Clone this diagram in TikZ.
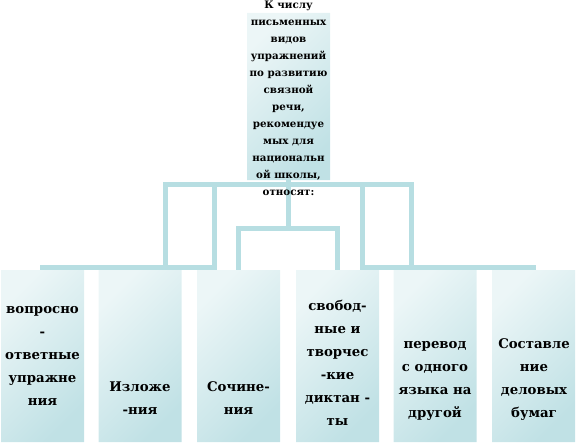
\documentclass[tikz,border=0pt]{standalone}
\usepackage{fontspec}
\setmainfont{DejaVu Serif}
\usetikzlibrary{shapes.misc,backgrounds}

\definecolor{linkteal}{RGB}{183,222,226}
\definecolor{boxlight}{RGB}{236,246,247}
\definecolor{boxdark}{RGB}{192,225,229}

\tikzset{
  card/.style={chamfered rectangle, chamfered rectangle xsep=5pt,
    inner sep=0pt, top color=boxlight, bottom color=boxdark, shading angle=45},
  leaf/.style={card, minimum width=83pt, minimum height=172pt},
  toptext/.style={font=\bfseries\fontsize{10.3}{17}\selectfont, align=center, inner sep=0pt},
  leaftext/.style={font=\bfseries\fontsize{13.3}{23}\selectfont, align=center, inner sep=0pt},
  link/.style={draw=linkteal, line width=5pt}
}

\begin{document}
\begin{tikzpicture}[x=1pt,y=-1pt]
  \useasboundingbox (0,0) rectangle (577,444);

  % top box, its text runs over the edges
  \node[card, minimum width=83pt, minimum height=167pt] (rootbox) at (288.5,96.5) {};
  \node[toptext] (root) at (288.5,98.5) {К числу\\ письменных\\ видов\\ упражнений\\
    по развитию\\ связной\\ речи,\\ рекомендуе\\ мых для\\ национальн\\ ой школы,\\ относят:};

  % six kinds
  \node[leaf] (qa) at (42.5,356) {};
  \node[leaf] (pres) at (140,356) {};
  \node[leaf] (comp) at (238.5,356) {};
  \node[leaf] (dict) at (337.5,356) {};
  \node[leaf] (transl) at (435,356) {};
  \node[leaf] (docs) at (533.5,356) {};

  \node[leaftext] (qa-t) at (42.5,356) {вопросно\\ -\\ ответные\\ упражне\\ ния};
  \node[leaftext] (pres-t) at (140,398.5) {Изложе\\ -ния};
  \node[leaftext] (comp-t) at (238.5,398.5) {Сочине-\\ ния};
  \node[leaftext] (dict-t) at (337.5,362.5) {свобод-\\ ные и\\ творчес\\ -кие\\ диктан -\\ ты};
  \node[leaftext] (transl-t) at (435,381) {перевод\\ с одного\\ языка на\\ другой};
  \node[leaftext] (docs-t) at (534,380) {Составле\\ ние\\ деловых\\ бумаг};

  \begin{scope}[on background layer]
    \draw[link] (rootbox.south) -- ++(0,4) -| ++(-123,83) -| (qa.north);
    \draw[link] (rootbox.south) -- ++(0,4) -| ++(-74,83) -| (pres.north);
    \draw[link] (rootbox.south) -- ++(0,48) -| (comp.north);
    \draw[link] (rootbox.south) -- ++(0,48) -| (dict.north);
    \draw[link] (rootbox.south) -- ++(0,4) -| ++(74,83) -| (transl.north);
    \draw[link] (rootbox.south) -- ++(0,4) -| ++(123,83) -| (docs.north);
  \end{scope}
\end{tikzpicture}
\end{document}
